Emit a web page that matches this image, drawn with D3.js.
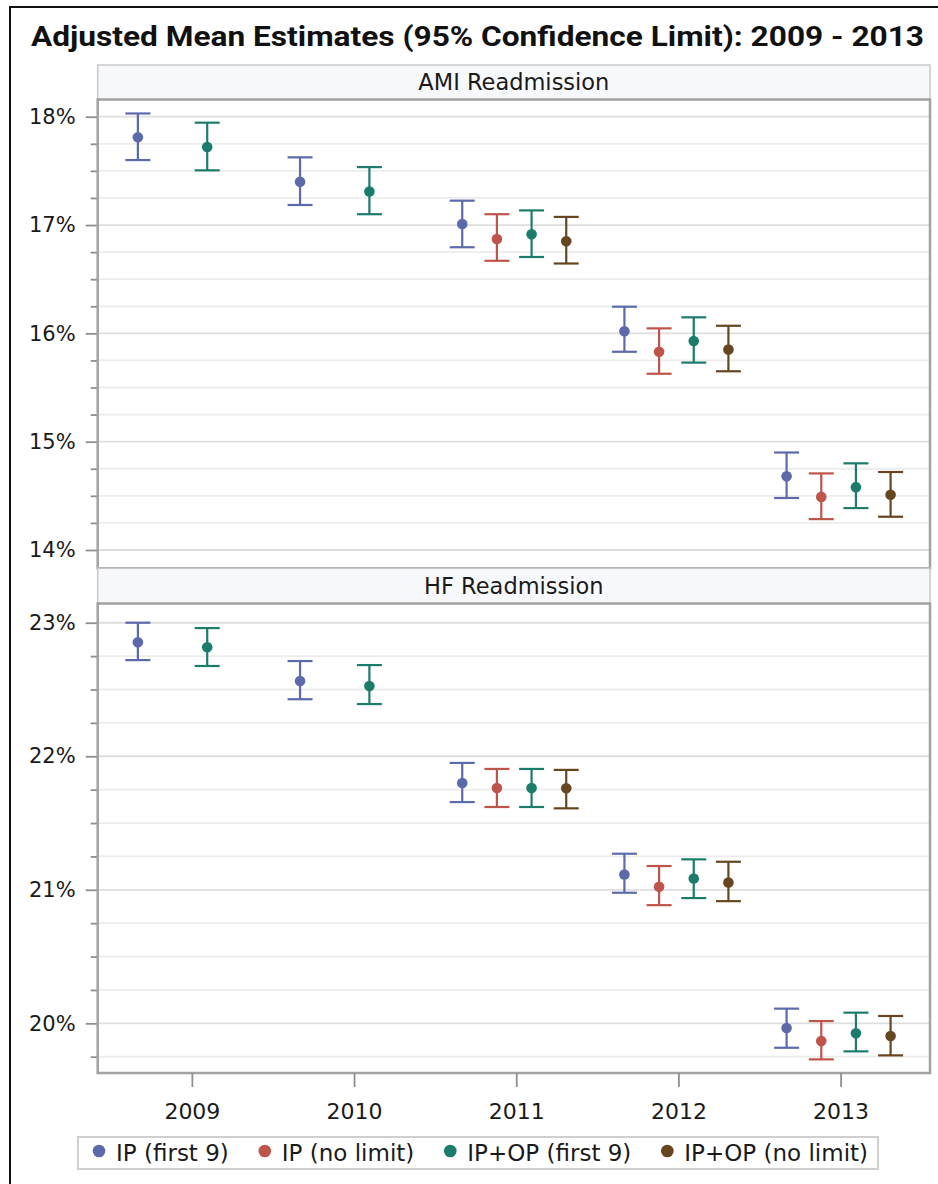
<!DOCTYPE html>
<html>
<head>
<meta charset="utf-8">
<script src="https://cdn.jsdelivr.net/npm/d3@7"></script>
<style>
  body { margin: 0; background: #fff; }
  text { font-family: "DejaVu Sans", sans-serif; fill: #1a1a1a; }
</style>
</head>
<body>
<div id="chart"></div>
<script>
// categories and series
const years = [2009, 2010, 2011, 2012, 2013];
const seriesNames = ['IP (first 9)', 'IP (no limit)', 'IP+OP (first 9)', 'IP+OP (no limit)'];
const seriesColors = ['#5c6aab', '#bf544b', '#1b7c6c', '#664620'];

// AMI readmission, one row per series, one value per year (percent)
const amiMean = [
  [17.81, 17.40, 17.01, 16.02, 14.68],
  [null, null, 16.87, 15.83, 14.49],
  [17.72, 17.31, 16.915, 15.93, 14.58],
  [null, null, 16.85, 15.85, 14.51]
];
const amiLower = [
  [17.60, 17.185, 16.795, 15.83, 14.48],
  [null, null, 16.67, 15.627, 14.285],
  [17.505, 17.10, 16.705, 15.73, 14.387],
  [null, null, 16.645, 15.65, 14.307]
];
const amiUpper = [
  [18.03, 17.625, 17.225, 16.246, 14.90],
  [null, null, 17.10, 16.046, 14.707],
  [17.945, 17.535, 17.135, 16.148, 14.80],
  [null, null, 17.075, 16.07, 14.72]
];

// HF readmission
const hfMean = [
  [22.853, 22.563, 21.80, 21.115, 19.965],
  [null, null, 21.762, 21.022, 19.867],
  [22.816, 22.526, 21.762, 21.085, 19.925],
  [null, null, 21.76, 21.055, 19.905]
];
const hfLower = [
  [22.72, 22.427, 21.657, 20.978, 19.817],
  [null, null, 21.62, 20.885, 19.73],
  [22.676, 22.391, 21.62, 20.938, 19.79],
  [null, null, 21.61, 20.915, 19.76]
];
const hfUpper = [
  [23.0, 22.713, 21.95, 21.27, 20.11],
  [null, null, 21.905, 21.178, 20.017],
  [22.96, 22.683, 21.905, 21.228, 20.08],
  [null, null, 21.898, 21.21, 20.055]
];

// y axis tick labels
const amiTicks = [14, 15, 16, 17, 18];
const hfTicks = [20, 21, 22, 23];

const width = 938, height = 1184;
const plotLeft = 97.7, plotRight = 930;

const svg = d3.select('#chart').append('svg')
    .attr('width', width)
    .attr('height', height);

svg.append('rect').attr('width', width).attr('height', height).attr('fill', '#fff');

// outer frame (cropped at right and bottom)
svg.append('rect')
    .attr('x', 10).attr('y', 7)
    .attr('width', 940).attr('height', 1190)
    .attr('fill', 'none')
    .attr('stroke', '#111')
    .attr('stroke-width', 2);

svg.append('text')
    .attr('x', 477.5)
    .attr('y', 46)
    .attr('text-anchor', 'middle')
    .attr('textLength', 893)
    .attr('lengthAdjust', 'spacingAndGlyphs')
    .style('font-family', 'Roboto, "DejaVu Sans", sans-serif')
    .style('font-size', '27px')
    .style('font-weight', 'bold')
    .style('fill', '#111')
    .text('Adjusted Mean Estimates (95% Confidence Limit): 2009 - 2013');

// shared x scales
const xScale = d3.scalePoint()
    .domain(years)
    .range([plotLeft, plotRight])
    .padding(0.566)
    .align(0.513);

const offset = d3.scalePoint()
    .domain(seriesNames)
    .range([-54, 50]);

const capHalf = 12.5;

const panels = [
  { title: 'AMI Readmission', headerTop: 65, top: 99.5, bottom: 568.3,
    domain: [13.831, 18.159], ticks: amiTicks,
    mean: amiMean, lower: amiLower, upper: amiUpper },
  { title: 'HF Readmission', headerTop: 568.3, top: 603.5, bottom: 1073,
    domain: [19.628, 23.144], ticks: hfTicks,
    mean: hfMean, lower: hfLower, upper: hfUpper }
];

panels.forEach((p, pi) => {
    const y = d3.scaleLinear().domain(p.domain).range([p.bottom, p.top]);

    // header strip
    svg.append('rect')
        .attr('x', plotLeft).attr('y', p.headerTop)
        .attr('width', plotRight - plotLeft).attr('height', p.top - p.headerTop)
        .attr('fill', '#f7f8fc')
        .attr('stroke', '#c8c8c8')
        .attr('stroke-width', 1.5);

    svg.append('text')
        .attr('x', (plotLeft + plotRight) / 2)
        .attr('y', (p.headerTop + p.top) / 2 + 8)
        .attr('text-anchor', 'middle')
        .style('font-size', '22.5px')
        .text(p.title);

    const chart = svg.append('g');

    // gridlines every 0.25%
    const minorVals = d3.range(Math.ceil(p.domain[0] * 4) / 4, p.domain[1], 0.25);
    chart.selectAll('.grid')
        .data(minorVals)
        .join('line')
        .attr('x1', plotLeft).attr('x2', plotRight)
        .attr('y1', d => y(d)).attr('y2', d => y(d))
        .attr('stroke', d => Number.isInteger(d) ? '#dedede' : '#ececec')
        .attr('stroke-width', 1.8);

    // minor ticks
    const minorAxis = d3.axisLeft(y)
        .tickValues(minorVals.filter(d => !Number.isInteger(d)))
        .tickSize(7)
        .tickFormat('');
    const minorG = svg.append('g')
        .attr('transform', `translate(${plotLeft},0)`)
        .call(minorAxis);
    minorG.select('.domain').remove();
    minorG.selectAll('line').attr('stroke', '#8f8f8f').attr('stroke-width', 1.8);

    // major ticks with labels
    const yAxis = d3.axisLeft(y)
        .tickValues(p.ticks)
        .tickSize(12)
        .tickPadding(10)
        .tickFormat(d => d + '%');
    const yAxisG = svg.append('g')
        .attr('transform', `translate(${plotLeft},0)`)
        .call(yAxis);
    yAxisG.select('.domain').remove();
    yAxisG.selectAll('line').attr('stroke', '#8f8f8f').attr('stroke-width', 1.8);
    yAxisG.selectAll('text')
        .attr('font-family', null)
        .style('font-size', '21px')
        .style('fill', '#1a1a1a');

    // plot frame
    svg.append('rect')
        .attr('x', plotLeft).attr('y', p.top)
        .attr('width', plotRight - plotLeft).attr('height', p.bottom - p.top)
        .attr('fill', 'none')
        .attr('stroke', '#a2a2a2')
        .attr('stroke-width', 2.5);

    // error bars
    const points = [];
    seriesNames.forEach((s, si) => {
        years.forEach((yr, yi) => {
            if (p.mean[si][yi] == null) return;
            points.push({
                series: s, color: seriesColors[si],
                x: xScale(yr) + offset(s),
                mean: p.mean[si][yi], lo: p.lower[si][yi], hi: p.upper[si][yi]
            });
        });
    });

    const bars = svg.append('g').selectAll('.bar')
        .data(points)
        .join('g')
        .attr('class', 'bar');

    bars.append('line')
        .attr('x1', d => d.x).attr('x2', d => d.x)
        .attr('y1', d => y(d.lo)).attr('y2', d => y(d.hi))
        .attr('stroke', d => d.color).attr('stroke-width', 2.2);
    bars.append('line')
        .attr('x1', d => d.x - capHalf).attr('x2', d => d.x + capHalf)
        .attr('y1', d => y(d.hi)).attr('y2', d => y(d.hi))
        .attr('stroke', d => d.color).attr('stroke-width', 2.2);
    bars.append('line')
        .attr('x1', d => d.x - capHalf).attr('x2', d => d.x + capHalf)
        .attr('y1', d => y(d.lo)).attr('y2', d => y(d.lo))
        .attr('stroke', d => d.color).attr('stroke-width', 2.2);
    bars.append('circle')
        .attr('cx', d => d.x).attr('cy', d => y(d.mean))
        .attr('r', 5.3)
        .attr('fill', d => d.color);

    // x axis on the bottom panel only
    if (pi === panels.length - 1) {
        const xAxis = d3.axisBottom(xScale).tickSize(14).tickPadding(16);
        const xAxisG = svg.append('g')
            .attr('transform', `translate(0,${p.bottom})`)
            .call(xAxis);
        xAxisG.select('.domain').remove();
        xAxisG.selectAll('line').attr('stroke', '#8f8f8f').attr('stroke-width', 1.8);
        xAxisG.selectAll('text')
            .attr('font-family', null)
            .style('font-size', '22px')
            .style('fill', '#1a1a1a');
    }
});

// legend
const legend = svg.append('g');
const legendBox = legend.append('rect')
    .attr('fill', '#fff')
    .attr('stroke', '#cfcfcf')
    .attr('stroke-width', 2);

let cursor = 99;
seriesNames.forEach((s, si) => {
    legend.append('circle')
        .attr('cx', cursor).attr('cy', 1151)
        .attr('r', 6.3)
        .attr('fill', seriesColors[si]);
    const t = legend.append('text')
        .attr('x', cursor + 17).attr('y', 1161)
        .style('font-size', '23px')
        .text(s);
    cursor += 17 + t.node().getComputedTextLength() + 36;
});

legendBox
    .attr('x', 78).attr('y', 1137)
    .attr('width', cursor - 36 + 10 - 78)
    .attr('height', 32);
</script>
</body>
</html>
